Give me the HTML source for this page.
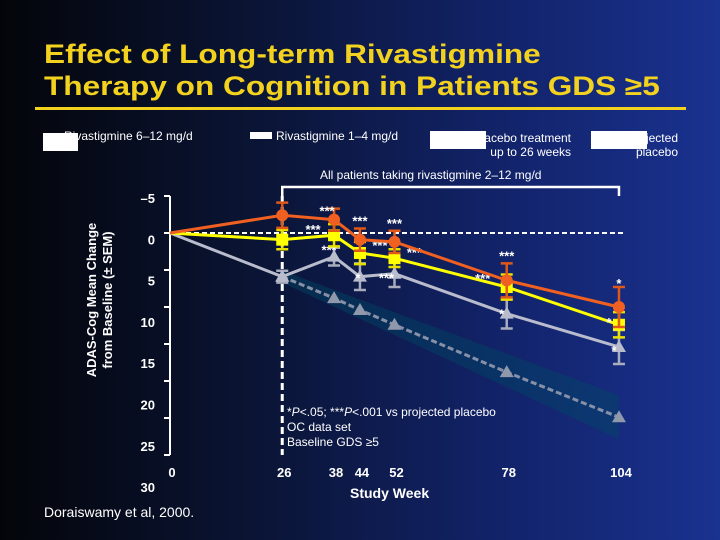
<!DOCTYPE html>
<html><head><meta charset="utf-8"><style>
html,body{margin:0;padding:0}
body{width:720px;height:540px;overflow:hidden;background:linear-gradient(90deg,#04050a 0%,#0a1434 35%,#12236a 70%,#1a3290 100%);font-family:"Liberation Sans",sans-serif;position:relative}
.t{position:absolute;color:#fff;white-space:nowrap}
</style></head><body>
<div class="t" style="left:44px;top:38px;color:#f2d21e;font-weight:bold;font-size:27px;line-height:32px;transform:scaleX(1.17);transform-origin:0 0">Effect of Long-term Rivastigmine<br>Therapy on Cognition in Patients GDS ≥5</div>
<div style="position:absolute;left:35px;top:107px;width:651px;height:3px;background:#f2d21e"></div>
<div class="t" style="left:64px;top:129px;font-size:12px">Rivastigmine 6–12 mg/d</div>
<div style="position:absolute;left:43px;top:133px;width:35px;height:18px;background:#fff"></div>
<div class="t" style="left:276px;top:129px;font-size:12px">Rivastigmine 1–4 mg/d</div>
<div style="position:absolute;left:250px;top:132px;width:22px;height:7px;background:#fff"></div>
<div class="t" style="left:440px;top:131px;font-size:12px;text-align:right;line-height:14px;width:131px">Placebo treatment<br>up to 26 weeks</div>
<div style="position:absolute;left:430px;top:131px;width:56px;height:18px;background:#fff"></div>
<div class="t" style="left:600px;top:131px;font-size:12px;text-align:right;line-height:14px;width:78px">Projected<br>placebo</div>
<div style="position:absolute;left:591px;top:131px;width:56px;height:18px;background:#fff"></div>
<div class="t" style="left:320px;top:168px;font-size:12px">All patients taking rivastigmine 2–12 mg/d</div>
<div class="t" style="left:100px;top:300px;font-size:13px;font-weight:bold;text-align:center;line-height:16px;transform:translate(-50%,-50%) rotate(-90deg)">ADAS-Cog Mean Change<br>from Baseline (± SEM)</div>
<div class="t" style="left:350px;top:485px;font-size:14px;font-weight:bold">Study Week</div>
<div class="t" style="left:44px;top:504px;font-size:14px">Doraiswamy et al, 2000.</div>
<div class="t" style="left:287px;top:405px;font-size:12px;line-height:15px">*<i>P</i>&lt;.05; ***<i>P</i>&lt;.001 vs projected placebo<br>OC data set<br>Baseline GDS ≥5</div>
<svg id="chart" width="720" height="540" style="position:absolute;left:0;top:0" xmlns="http://www.w3.org/2000/svg"></svg>
<script>
const weeks=[0,26,38,44,52,78,104];
const yTicks=[-5,0,5,10,15,20,25,30];
const xTickLabels=[0,26,38,44,52,78,104];
const high=[0,-2.4,-1.8,0.9,1.2,6.4,10.0];
const highErr=[0,1.7,1.5,1.5,1.5,2.3,2.7];
const low=[0,0.9,0.3,2.7,3.4,7.3,12.4];
const lowErr=[0,1.3,1.5,1.5,1.2,1.7,1.7];
const plc=[0,5.9,3.2,5.9,5.5,10.9,15.4];
const plcErr=[0,0.8,1.2,1.8,1.8,2.0,2.3];
const projWeeks=[26,38,44,52,78,104];
const proj=[5.9,8.8,10.4,12.4,18.8,24.9];
const highStars=['','','***','***','***','***','*'];
const lowStars=['','','***','***','***','***','*'];
const plcStars=['','','***','*','***','*','*'];
const X=w=>170+w*4.317;
const Y=v=>233+v*7.4;
const svg=document.getElementById('chart');
const NS='http://www.w3.org/2000/svg';
function mk(tag,attrs,parent){const e=document.createElementNS(NS,tag);for(const k in attrs)e.setAttribute(k,attrs[k]);(parent||svg).appendChild(e);return e;}
let ax=mk('line',{x1:170,y1:Y(-5),x2:170,y2:Y(30),stroke:'#fff','stroke-width':2});


yTicks.forEach((v,i)=>{
  let tk=mk('line',{x1:164,y1:Y(v),x2:170,y2:Y(v),stroke:'#fff','stroke-width':2});
  
  
  let t=mk('text',{x:155,y:Y(v)+7+i*4.3,fill:'#fff','font-size':13,'font-weight':'bold','text-anchor':'end','font-family':'Liberation Sans'});
  t.textContent=v<0?'–'+(-v):v;
  
  
});
xTickLabels.forEach(w=>{
  let t=mk('text',{x:X(w)+2,y:477,fill:'#fff','font-size':13,'font-weight':'bold','text-anchor':'middle','font-family':'Liberation Sans'});
  t.textContent=w;
  
  
});
let b=mk('polygon',{points:`${X(26)},${Y(proj[0])-6} ${X(104)},${Y(proj[5])-22} ${X(104)},${Y(proj[5])+22} ${X(26)},${Y(proj[0])+6}`,fill:'rgba(0,70,100,0.45)'});


let br=mk('polyline',{points:`${X(26)},196 ${X(26)},187 ${X(104)},187 ${X(104)},196`,fill:'none',stroke:'#fff','stroke-width':2.5});


let hz=mk('line',{x1:170,y1:Y(0),x2:X(104)+5,y2:Y(0),stroke:'#fff','stroke-width':2,'stroke-dasharray':'5,3'});


let vt=mk('line',{x1:X(26),y1:196,x2:X(26),y2:455,stroke:'#fff','stroke-width':3,'stroke-dasharray':'7,4'});


function tri(cx,cy,fill,name){let p=mk('polygon',{points:`${cx-7},${cy+5} ${cx+7},${cy+5} ${cx},${cy-7}`,fill:fill});}
let pl=mk('polyline',{points:projWeeks.map((w,i)=>X(w)+','+Y(proj[i])).join(' '),fill:'none',stroke:'#8890a8','stroke-width':3,'stroke-dasharray':'6,3'});


projWeeks.forEach((w,i)=>tri(X(w),Y(proj[i]),'#9098ac','projected-placebo-point'));
function series(vals,errs,color,errColor,marker,name,stars,starPos){
  let l=mk('polyline',{points:weeks.map((w,i)=>X(w)+','+Y(vals[i])).join(' '),fill:'none',stroke:color,'stroke-width':3});
  
  
  weeks.forEach((w,i)=>{
    if(i===0)return;
    const cx=X(w),cy=Y(vals[i]),e=errs[i]*7.4;
    let eb=mk('path',{d:`M${cx},${cy-e}V${cy+e}M${cx-6},${cy-e}H${cx+6}M${cx-6},${cy+e}H${cx+6}`,stroke:errColor,'stroke-width':2.5,fill:'none'});
    
    
    if(marker==='d'){let m=mk('circle',{cx:cx,cy:cy,r:6,fill:color});}
    else if(marker==='s'){let m=mk('rect',{x:cx-6,y:cy-6,width:12,height:12,fill:color});}
    else tri(cx,cy,color,name+'-point');
    if(stars[i]){
      const p=starPos[i];
      let t=mk('text',{x:cx+p[0],y:cy+p[1],fill:'#fff','font-size':13,'font-weight':'bold','text-anchor':'middle','font-family':'Liberation Sans'});
      t.textContent=stars[i];
      
      
    }
  });
}
series(plc,plcErr,'#b8bccc','#a8acbc','t','placebo',plcStars,[0,0,[-5,-2],[-2,6],[-8,9],[-5,5],[-5,8]]);
series(low,lowErr,'#ffff00','#e8e000','s','rivastigmine-1-4',lowStars,[0,0,[-21,-1],[20,-3],[20,-1],[-24,-4],[-10,2]]);
series(high,highErr,'#f06020','#e05818','d','rivastigmine-6-12',highStars,[0,0,[-7,-4],[0,-14],[0,-14],[0,-20],[0,-19]]);
</script>
</body></html>
